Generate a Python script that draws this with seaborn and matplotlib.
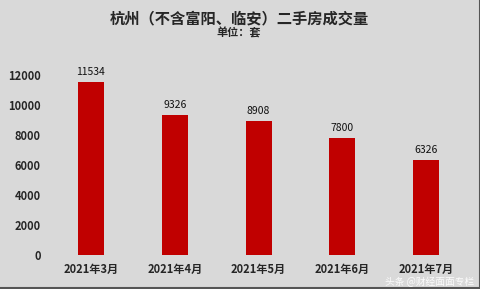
import matplotlib
matplotlib.use("Agg")
import matplotlib.pyplot as plt
import seaborn as sns
import pandas as pd

months = ["2021年3月", "2021年4月", "2021年5月", "2021年6月", "2021年7月"]
volumes = [11534, 9326, 8908, 7800, 6326]
yticks = [0, 2000, 4000, 6000, 8000, 10000, 12000]

sns.set_style("white")
plt.rcParams['font.family'] = ['Noto Sans CJK SC', 'DejaVu Sans']

bg = "#d9d9d9"
fig = plt.figure(figsize=(4.81, 2.89), dpi=100, facecolor=bg)
ax = fig.add_axes([0.102, 0.118, 0.871, 0.726], facecolor=bg)

df = pd.DataFrame({"month": months, "volume": volumes})
sns.barplot(data=df, x="month", y="volume", color="#c00000", width=0.31,
            saturation=1, linewidth=0, ax=ax)

for i, v in enumerate(volumes):
    ax.text(i, v + 350, str(v), ha="center", va="bottom", fontsize=7.5, color="#111111")

ax.set_ylim(0, 14000)
ax.set_yticks(yticks)
ax.set_yticklabels([str(t) for t in yticks], fontsize=8, fontweight="bold")
ax.set_xticks(range(len(months)))
ax.set_xticklabels(months, fontsize=8, fontweight="bold")
ax.tick_params(length=0, pad=6)
ax.set_xlabel("")
ax.set_ylabel("")
sns.despine(ax=ax, left=True, bottom=True)

fig.text(0.497, 0.935, "杭州（不含富阳、临安）二手房成交量", ha="center", va="center",
         fontsize=11, fontweight="bold")
fig.text(0.497, 0.885, "单位：套", ha="center", va="center", fontsize=8, fontweight="bold")

# watermark, kept just under the month labels
fig.text(0.985, 0.025, "头条 @财经面面专栏", ha="right", va="center", fontsize=7,
         color="white", alpha=0.9)

# frame line on right/bottom
fig.add_artist(plt.Line2D([0, 1], [0.003, 0.003], color="#555555", lw=1.5, transform=fig.transFigure))
fig.add_artist(plt.Line2D([0.997, 0.997], [0, 1], color="#555555", lw=1.5, transform=fig.transFigure))

fig.savefig("out.png", dpi=100, facecolor=bg)
